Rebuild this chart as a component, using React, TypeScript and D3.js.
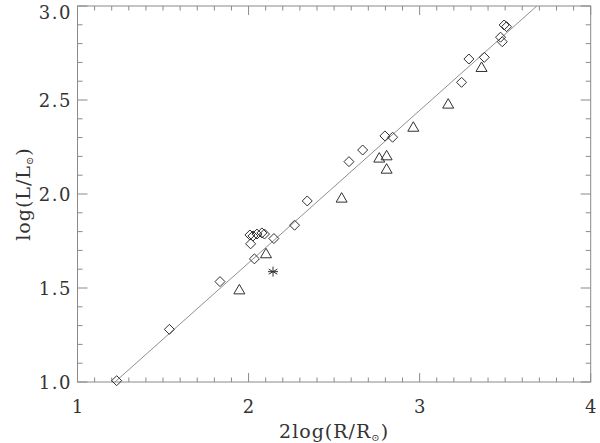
import React from "react";
import * as d3 from "d3";

const diamondX = [1.229, 1.537, 1.833, 2.008, 2.026, 2.049, 2.078, 2.093, 2.012, 2.148, 2.034, 2.269, 2.343, 2.587, 2.667, 2.797, 2.842, 3.245, 3.288, 3.378, 3.473, 3.483, 3.494, 3.508];
const diamondY = [1.007, 1.280, 1.534, 1.782, 1.777, 1.787, 1.793, 1.787, 1.735, 1.763, 1.655, 1.834, 1.963, 2.172, 2.234, 2.309, 2.302, 2.594, 2.718, 2.727, 2.834, 2.810, 2.899, 2.890];
const triangleX = [1.946, 2.102, 2.544, 2.764, 2.807, 2.807, 2.963, 3.167, 3.362];
const triangleY = [1.489, 1.681, 1.977, 2.190, 2.202, 2.131, 2.354, 2.477, 2.672];
const asteriskX = [2.143];
const asteriskY = [1.587];
const fitX = [1.219, 3.685];
const fitY = [1.0, 3.0];
const xTicks = [1, 2, 3, 4];
const yTicks = [1.0, 1.5, 2.0, 2.5, 3.0];

const W = 600, H = 443;
const M = { left: 77.5, right: 590.7, top: 6, bottom: 382 };
const FRAME = "#8a8a8a";
const MARK = "#303030";
const FONT = "'DejaVu Serif', 'Liberation Serif', serif";

export default function App() {
  const x = d3.scaleLinear().domain([1, 4]).range([M.left, M.right]);
  const y = d3.scaleLinear().domain([1, 3]).range([M.bottom, M.top]);
  const xMinor = d3.range(10, 41).map((v) => v / 10);
  const yMinor = d3.range(10, 31).map((v) => v / 10);
  const line = d3.line<number>().x((_, i) => x(fitX[i])).y((_, i) => y(fitY[i]));

  const ds = 5;
  const tw = 5.5, th = 9.5;
  return (
    <svg width={W} height={H} style={{ position: "absolute", left: 0, top: 0, background: "#fff" }}>
      <defs>
        <clipPath id="plotclip">
          <rect x={M.left} y={M.top} width={M.right - M.left} height={M.bottom - M.top} />
        </clipPath>
      </defs>
      <rect x={0} y={0} width={W} height={H} fill="#fff" />
      {/* minor ticks */}
      {xMinor.map((v, i) => {
        const major = Number.isInteger(Math.round(v * 10) / 10) && Math.abs(v - Math.round(v)) < 1e-6;
        const len = major ? 9 : 4.5;
        return (
          <g key={"xt" + i} stroke={FRAME} strokeWidth={1}>
            <line x1={x(v)} x2={x(v)} y1={M.bottom} y2={M.bottom - len} />
            <line x1={x(v)} x2={x(v)} y1={M.top} y2={M.top + len} />
          </g>
        );
      })}
      {yMinor.map((v, i) => {
        const major = Math.abs(v * 2 - Math.round(v * 2)) < 1e-6;
        const len = major ? 10 : 5;
        return (
          <g key={"yt" + i} stroke={FRAME} strokeWidth={1}>
            <line x1={M.left} x2={M.left + len} y1={y(v)} y2={y(v)} />
            <line x1={M.right} x2={M.right - len} y1={y(v)} y2={y(v)} />
          </g>
        );
      })}
      <rect x={M.left} y={M.top} width={M.right - M.left} height={M.bottom - M.top} fill="none" stroke={FRAME} strokeWidth={1} />

      {/* fit line */}
      <g clipPath="url(#plotclip)">
        <path d={line(fitX) || ""} fill="none" stroke="#8f8f8f" strokeWidth={1} />
      </g>

      {/* diamonds */}
      {diamondX.map((v, i) => {
        const cx = x(v), cy = y(diamondY[i]);
        return (
          <path key={"d" + i} d={`M${cx},${cy - ds}L${cx + ds},${cy}L${cx},${cy + ds}L${cx - ds},${cy}Z`} fill="none" stroke={MARK} strokeWidth={1} />
        );
      })}
      {/* triangles */}
      {triangleX.map((v, i) => {
        const cx = x(v), cy = y(triangleY[i]);
        return (
          <path key={"t" + i} d={`M${cx},${cy - th * 0.6}L${cx + tw},${cy + th * 0.4}L${cx - tw},${cy + th * 0.4}Z`} fill="none" stroke={MARK} strokeWidth={1} />
        );
      })}
      {/* asterisk */}
      {asteriskX.map((v, i) => {
        const cx = x(v), cy = y(asteriskY[i]);
        const r = 5;
        const angles = [0, 60, 120];
        return (
          <g key={"a" + i} stroke={MARK} strokeWidth={1}>
            <line x1={cx} x2={cx} y1={cy - r} y2={cy + r} />
            {angles.slice(1).map((a) => {
              const rad = (a * Math.PI) / 180;
              return <line key={a} x1={cx - r * Math.sin(rad)} x2={cx + r * Math.sin(rad)} y1={cy - r * Math.cos(rad)} y2={cy + r * Math.cos(rad)} />;
            })}
            <line x1={cx - r} x2={cx + r} y1={cy} y2={cy} />
          </g>
        );
      })}

      {/* tick labels */}
      {xTicks.map((v) => (
        <text key={"xl" + v} x={x(v)} y={413} textAnchor="middle" fontFamily={FONT} fontSize={18} fill="#333">
          {v}
        </text>
      ))}
      {yTicks.map((v) => (
        <text key={"yl" + v} x={72} y={Math.max(y(v), 12) + 6.5} textAnchor="end" fontFamily={FONT} fontSize={18} letterSpacing={1.5} fill="#333">
          {v.toFixed(1)}
        </text>
      ))}

      {/* axis titles */}
      <text x={(M.left + M.right) / 2} y={438} textAnchor="middle" fontFamily={FONT} fontSize={19} letterSpacing={1} fill="#333">
        2log(R/R<tspan fontSize={10} dy={3}>⊙</tspan><tspan dy={-3}>)</tspan>
      </text>
      <text transform={`translate(30,${(M.top + M.bottom) / 2}) rotate(-90)`} textAnchor="middle" fontFamily={FONT} fontSize={19} letterSpacing={1} fill="#333">
        log(L/L<tspan fontSize={10} dy={3}>⊙</tspan><tspan dy={-3}>)</tspan>
      </text>
    </svg>
  );
}
